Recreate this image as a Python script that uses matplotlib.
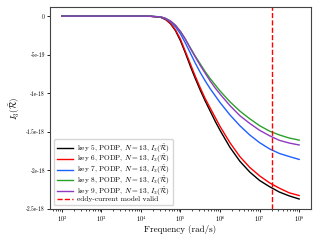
import numpy as np
import matplotlib
matplotlib.use("Agg")
import matplotlib.pyplot as plt

plt.rcParams["font.family"] = "serif"
plt.rcParams["font.serif"] = ["cmr10", "DejaVu Serif"]
plt.rcParams["mathtext.fontset"] = "cm"
plt.rcParams["axes.formatter.use_mathtext"] = True

# frequency grid (log10 of rad/s)
log_freq = [2.0, 3.0, 4.0, 4.25, 4.5, 4.625, 4.75, 4.875, 5.0, 5.125, 5.25,
            5.375, 5.5, 5.625, 5.75, 5.875, 6.0, 6.25, 6.5, 6.75, 7.0,
            7.25, 7.5, 7.75, 8.0]

# I3 values in units of 1e-18
key5 = [0, 0, 0, -0.003, -0.015, -0.045, -0.10, -0.19, -0.32, -0.48, -0.65,
        -0.81, -0.96, -1.10, -1.23, -1.36, -1.48, -1.70, -1.88, -2.02, -2.13,
        -2.21, -2.28, -2.33, -2.37]
key6 = [0, 0, 0, -0.003, -0.015, -0.043, -0.095, -0.18, -0.30, -0.46, -0.62,
        -0.78, -0.93, -1.07, -1.19, -1.31, -1.43, -1.64, -1.82, -1.96, -2.07,
        -2.16, -2.23, -2.29, -2.325]
key7 = [0, 0, 0, -0.002, -0.012, -0.035, -0.075, -0.14, -0.23, -0.35, -0.48,
        -0.61, -0.73, -0.84, -0.94, -1.03, -1.12, -1.28, -1.42, -1.54, -1.64,
        -1.72, -1.78, -1.82, -1.857]
key8 = [0, 0, 0, -0.002, -0.01, -0.03, -0.065, -0.12, -0.20, -0.30, -0.41,
        -0.52, -0.62, -0.72, -0.81, -0.89, -0.97, -1.11, -1.23, -1.33, -1.42,
        -1.49, -1.54, -1.58, -1.607]
key9 = [0, 0, 0, -0.002, -0.01, -0.03, -0.065, -0.12, -0.20, -0.30, -0.42,
        -0.53, -0.64, -0.74, -0.84, -0.93, -1.01, -1.16, -1.29, -1.39, -1.48,
        -1.55, -1.61, -1.645, -1.67]

series = [key5, key6, key7, key8, key9]
keys = [5, 6, 7, 8, 9]
colors = ["black", "red", "#1f5fff", "#2ca02c", "#8e3bbf"]

valid_freq = 2e7

xtick_vals = [1e2, 1e3, 1e4, 1e5, 1e6, 1e7, 1e8]
ytick_vals = [0, -0.5e-18, -1e-18, -1.5e-18, -2e-18, -2.5e-18]
ytick_labels = ["0", "-5e-19", "-1e-18", "-1.5e-18", "-2e-18", "-2.5e-18"]

freq = 10.0 ** np.array(log_freq)

fig = plt.figure(figsize=(3.2, 2.4), dpi=100)
ax = fig.add_axes([0.156, 0.129, 0.816, 0.842])

for k, vals, c in zip(keys, series, colors):
    ax.semilogx(freq, np.array(vals) * 1e-18, color=c, lw=1.0,
                label=r"key %d, PODP, $N=13$, $I_3(\tilde{\mathcal{R}})$" % k)
ax.axvline(valid_freq, color="red", ls="--", lw=1.0,
           label="eddy-current model valid")

ax.set_xticks(xtick_vals)
ax.set_yticks(ytick_vals)
ax.set_yticklabels(ytick_labels)
ax.tick_params(labelsize=4.5, length=2, width=0.6, pad=1.5)
ax.tick_params(axis="y", labelsize=4.0)
ax.tick_params(which="minor", length=1.2, width=0.5)
for s in ax.spines.values():
    s.set_linewidth(0.8)
    s.set_color("#444444")

ax.set_xlabel("Frequency (rad/s)", fontsize=6.5, labelpad=1)
ax.set_ylabel(r"$I_3(\tilde{\mathcal{R}})$", fontsize=6.5, labelpad=3)
ax.legend(loc="lower left", fontsize=5.3, handlelength=2.2, framealpha=0.8,
          borderpad=0.4, labelspacing=-0.2, handletextpad=0.6)

fig.savefig("out.png", dpi=100)
